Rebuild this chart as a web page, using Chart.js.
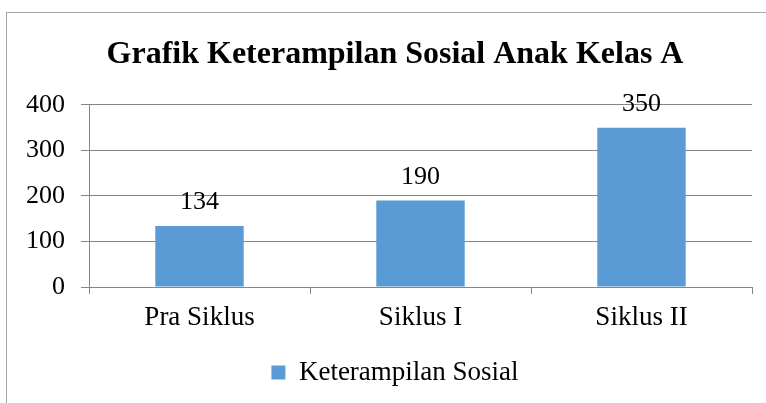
<!DOCTYPE html>
<html>
<head>
<meta charset="utf-8">
<script src="https://cdn.jsdelivr.net/npm/chart.js@4"></script>
<style>
  html, body { margin: 0; padding: 0; background: #fff; }
  #wrap { position: relative; width: 766px; height: 403px; overflow: hidden; }
  #frame { position: absolute; left: 6px; top: 12px; width: 800px; height: 420px; border: 1.5px solid #a6a6a6; box-sizing: border-box; }
  canvas { position: absolute; left: 0; top: 0; }
</style>
</head>
<body>
<div id="wrap">
  <div id="frame"></div>
  <canvas id="c" width="766" height="403"></canvas>
</div>
<script>
const chartTitle = "Grafik Keterampilan Sosial Anak Kelas A";
const categories = ["Pra Siklus", "Siklus I", "Siklus II"];
const seriesName = "Keterampilan Sosial";
const seriesValues = [134, 190, 350];
const yTicks = [0, 100, 200, 300, 400];

const serif = "'Liberation Serif', 'Times New Roman', serif";

const valueLabels = {
  id: 'valueLabels',
  afterDatasetsDraw(chart) {
    const ctx = chart.ctx;
    const meta = chart.getDatasetMeta(0);
    ctx.save();
    ctx.font = "26px " + serif;
    ctx.fillStyle = "#000";
    ctx.textAlign = "center";
    ctx.textBaseline = "alphabetic";
    meta.data.forEach((bar, i) => {
      ctx.fillText(String(seriesValues[i]), bar.x, bar.y - 17);
    });
    ctx.restore();
  }
};

new Chart(document.getElementById('c'), {
  type: 'bar',
  data: {
    labels: categories,
    datasets: [{
      label: seriesName,
      data: seriesValues,
      backgroundColor: '#5B9BD5',
      borderWidth: 0,
      categoryPercentage: 1.0,
      barPercentage: 0.4
    }]
  },
  options: {
    responsive: false,
    animation: false,
    devicePixelRatio: 1,
    layout: { padding: { left: 38, right: 14, top: 0, bottom: 7 } },
    plugins: {
      title: {
        display: true,
        text: chartTitle,
        color: '#000',
        font: { family: serif, size: 32, weight: 'bold' },
        padding: { top: 35.5, bottom: 31 }
      },
      legend: {
        display: true,
        position: 'bottom',
        labels: {
          color: '#000',
          font: { family: serif, size: 27 },
          boxWidth: 14,
          boxHeight: 14,
          padding: 10
        }
      },
      tooltip: { enabled: false }
    },
    scales: {
      x: {
        grid: { display: true, drawOnChartArea: false, drawTicks: true, tickLength: 7, color: '#868686', offset: true },
        border: { display: true, color: '#868686', width: 1 },
        ticks: { color: '#000', font: { family: serif, size: 27 }, padding: 8 },
        afterFit(scale) { scale.height = 62; }
      },
      y: {
        min: 0, max: 400,
        afterBuildTicks(scale) { scale.ticks = yTicks.map(v => ({ value: v })); },
        grid: { color: '#868686', tickLength: 8, lineWidth: 1 },
        border: { display: true, color: '#868686', width: 1 },
        ticks: { color: '#000', font: { family: serif, size: 26 }, mirror: true, crossAlign: 'far', padding: -63 },
        afterFit(scale) { scale.width = 51; }
      }
    }
  },
  plugins: [valueLabels]
});
</script>
</body>
</html>
